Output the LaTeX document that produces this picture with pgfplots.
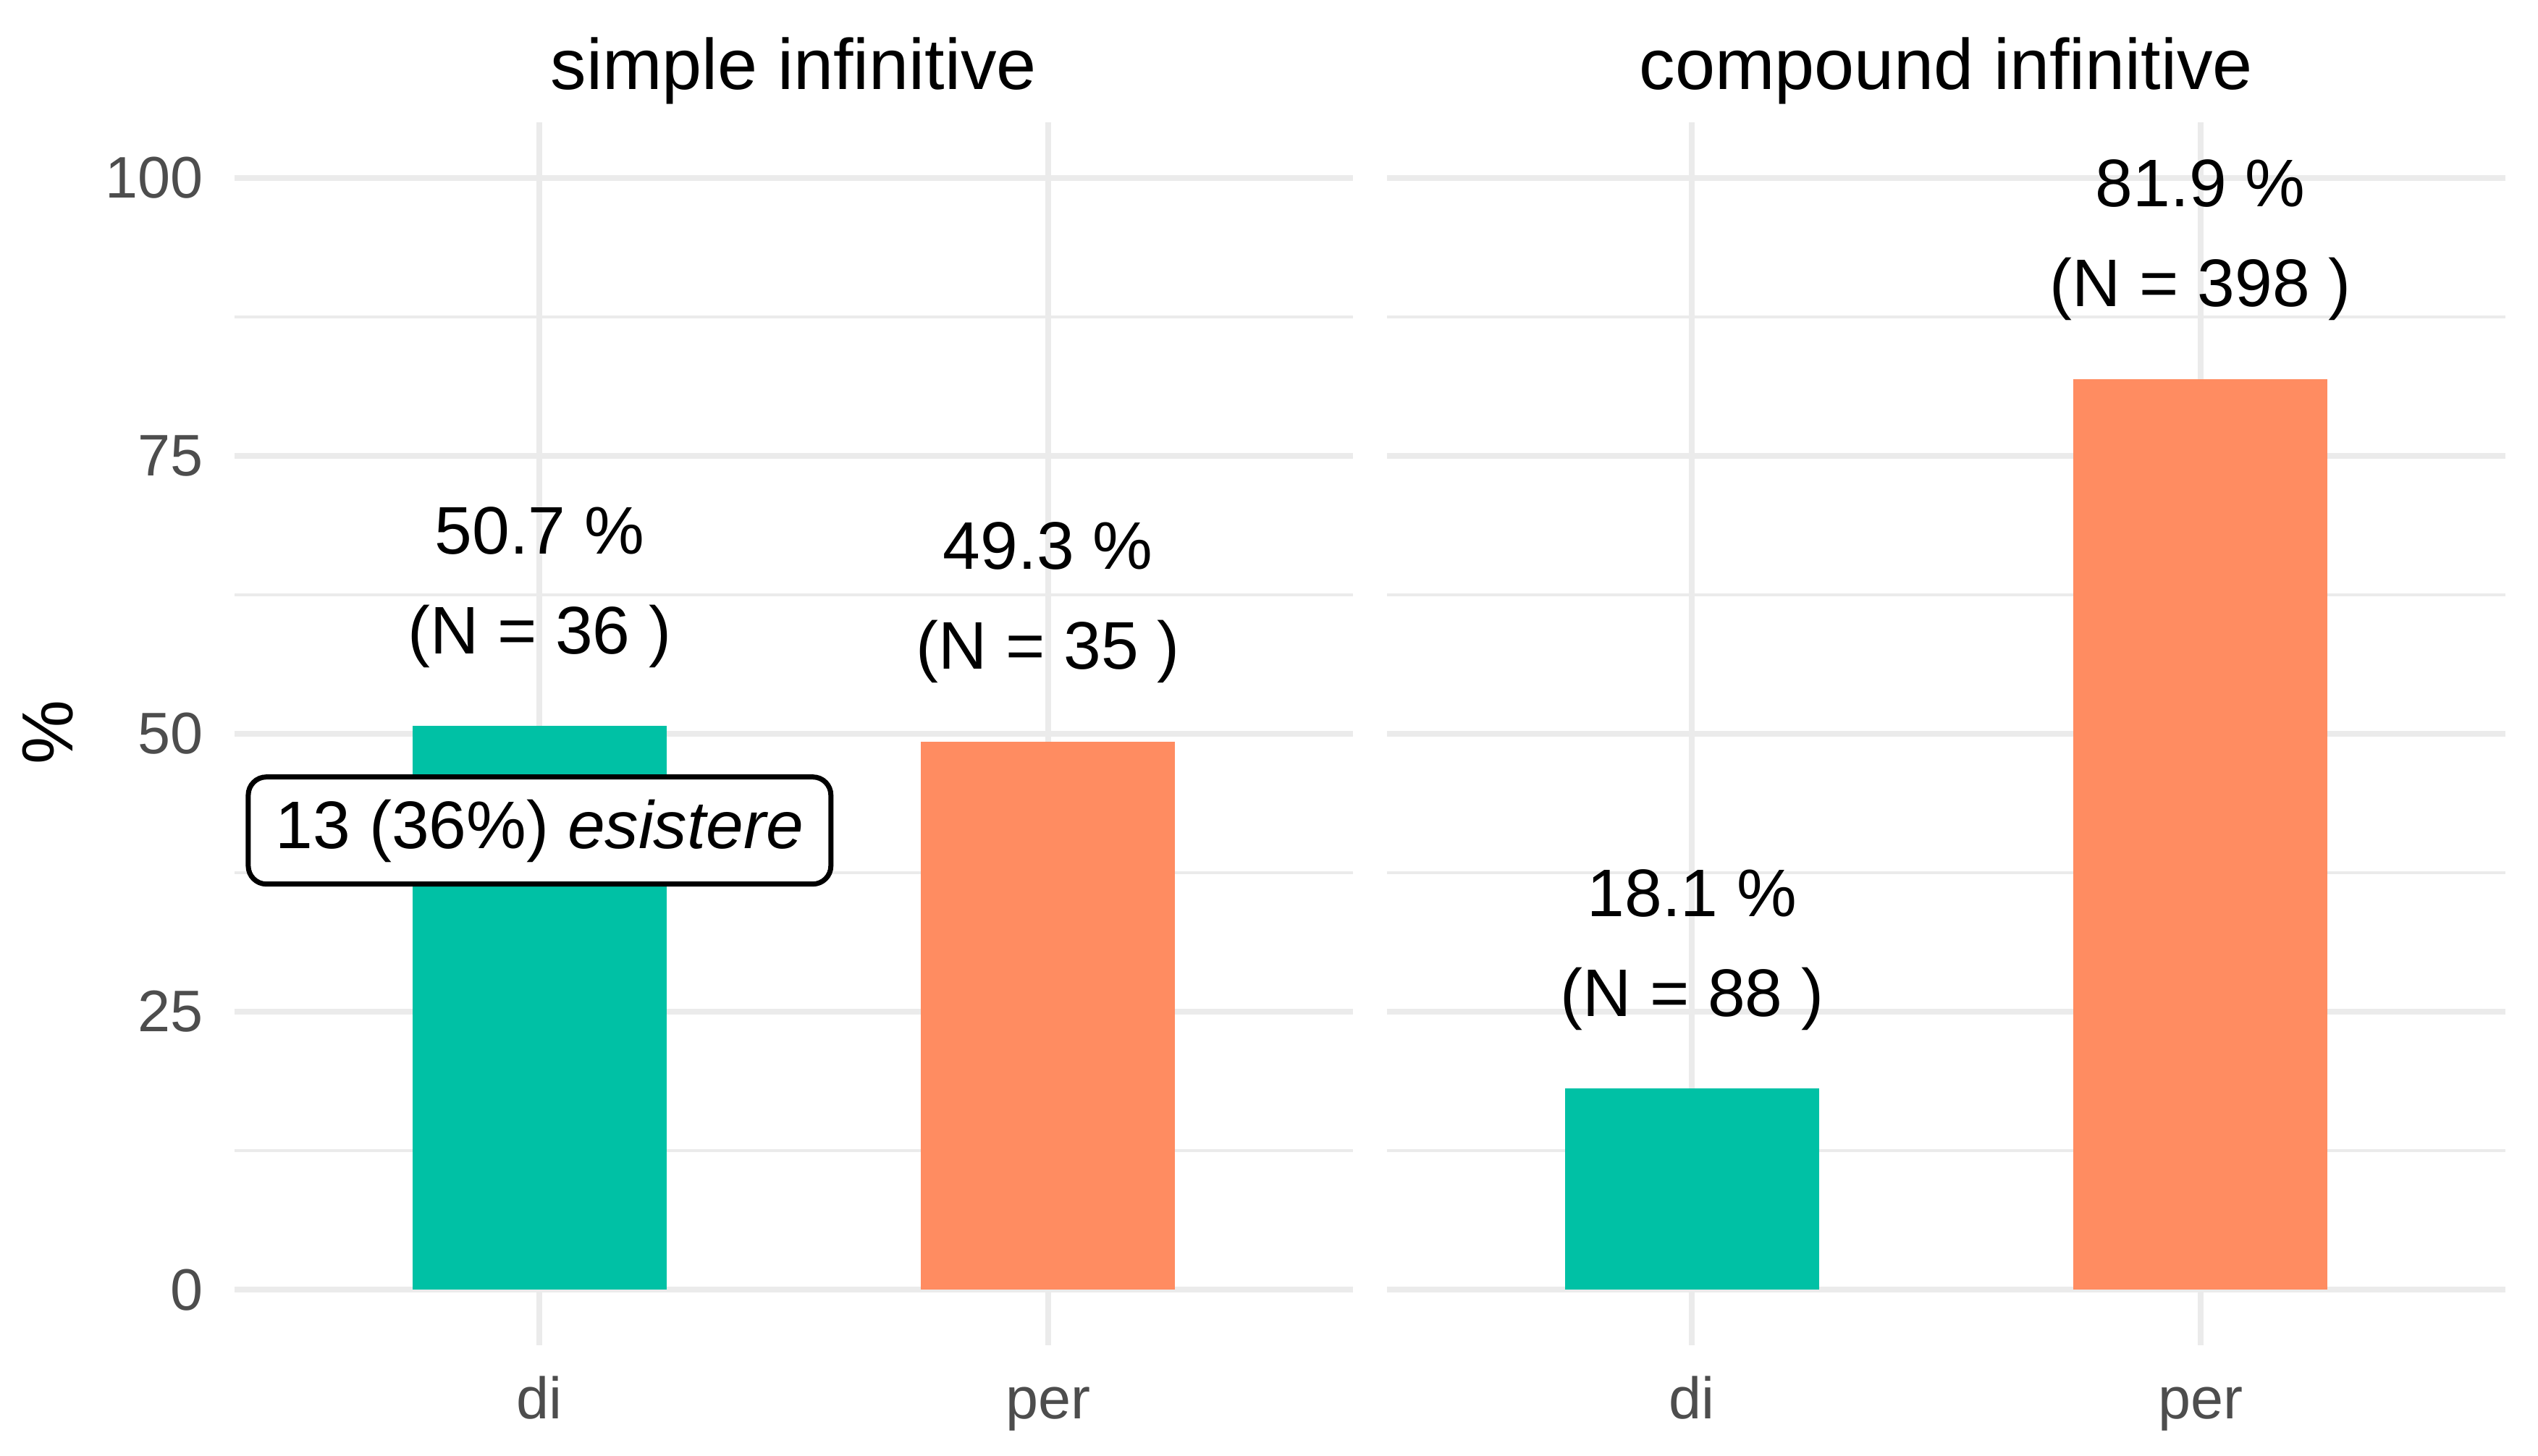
\documentclass[border=0pt]{standalone}
\usepackage{fontspec}
\setmainfont{Liberation Sans}
\usepackage{pgfplots}
\pgfplotsset{compat=1.18}
\definecolor{diC}{HTML}{00C1A5}
\definecolor{perC}{HTML}{FF8C61}
\definecolor{gridC}{HTML}{EBEBEB}
\definecolor{tickC}{HTML}{4D4D4D}
\newcommand{\tickfont}{\fontsize{16.2}{19}\selectfont}
\newcommand{\titlefont}{\fontsize{19.8}{23}\selectfont}
\newcommand{\annfont}{\fontsize{18.6}{22}\selectfont}
\pgfplotsset{
  panel/.style={
    anchor=south west,
    width=309pt, height=338pt, scale only axis,
    xmin=0.4, xmax=2.6, ymin=-5, ymax=105,
    xtick={1,2}, xticklabels={di,per},
    ytick={0,25,50,75,100}, minor ytick={12.5,37.5,62.5,87.5},
    axis line style={draw=none},
    major tick length=0pt, minor tick length=0pt,
    tick style={draw=none},
    xmajorgrids, ymajorgrids, yminorgrids,
    major grid style={gridC, line width=1.6pt},
    minor grid style={gridC, line width=0.8pt},
    xticklabel style={font=\tickfont, text=tickC, anchor=north, inner sep=0pt,
      text height=11.8pt, text depth=3pt, yshift=-8.2pt},
    yticklabel style={font=\tickfont, text=tickC, anchor=east, inner sep=0pt, xshift=-8.4pt},
    /pgf/number format/assume math mode=true,
    title style={font=\titlefont, at={(0.5,1)}, anchor=base, inner sep=0pt, yshift=3pt},
    clip=false,
  },
  barstyle/.style={ybar, bar width=0.5, bar shift=0pt, draw=none, fill=#1},
}
\begin{document}
\begin{tikzpicture}
\path[use as bounding box] (0pt,0pt) rectangle (701.2pt,402.2pt);
\node[rotate=90, font=\fontsize{20}{24}\selectfont] at (13.2pt,199.8pt) {\%};
\begin{axis}[panel, at={(64.8pt,30.4pt)}, title={simple infinitive}]
  \addplot[barstyle=diC] coordinates {(1,50.7)};
  \addplot[barstyle=perC] coordinates {(2,49.3)};
  \node[anchor=base, font=\annfont, yshift=47.6pt] at (axis cs:1,50.7) {50.7 \%};
  \node[anchor=base, font=\annfont, yshift=20pt] at (axis cs:1,50.7) {(N = 36 )};
  \node[anchor=base, font=\annfont, yshift=47.6pt] at (axis cs:2,49.3) {49.3 \%};
  \node[anchor=base, font=\annfont, yshift=20pt] at (axis cs:2,49.3) {(N = 35 )};
  \node[draw=black, line width=1.4pt, rounded corners=5pt, fill=white,
        inner xsep=7.6pt, inner ysep=5.9pt, text height=13.9pt, text depth=3.9pt,
        font=\annfont] at (axis cs:1,41.3) {13 (36\%) \textit{esistere}};
\end{axis}
\begin{axis}[panel, at={(383.2pt,30.4pt)}, title={compound infinitive}, yticklabels={}]
  \addplot[barstyle=diC] coordinates {(1,18.1)};
  \addplot[barstyle=perC] coordinates {(2,81.9)};
  \node[anchor=base, font=\annfont, yshift=47.6pt] at (axis cs:1,18.1) {18.1 \%};
  \node[anchor=base, font=\annfont, yshift=20pt] at (axis cs:1,18.1) {(N = 88 )};
  \node[anchor=base, font=\annfont, yshift=47.6pt] at (axis cs:2,81.9) {81.9 \%};
  \node[anchor=base, font=\annfont, yshift=20pt] at (axis cs:2,81.9) {(N = 398 )};
\end{axis}
\end{tikzpicture}
\end{document}
